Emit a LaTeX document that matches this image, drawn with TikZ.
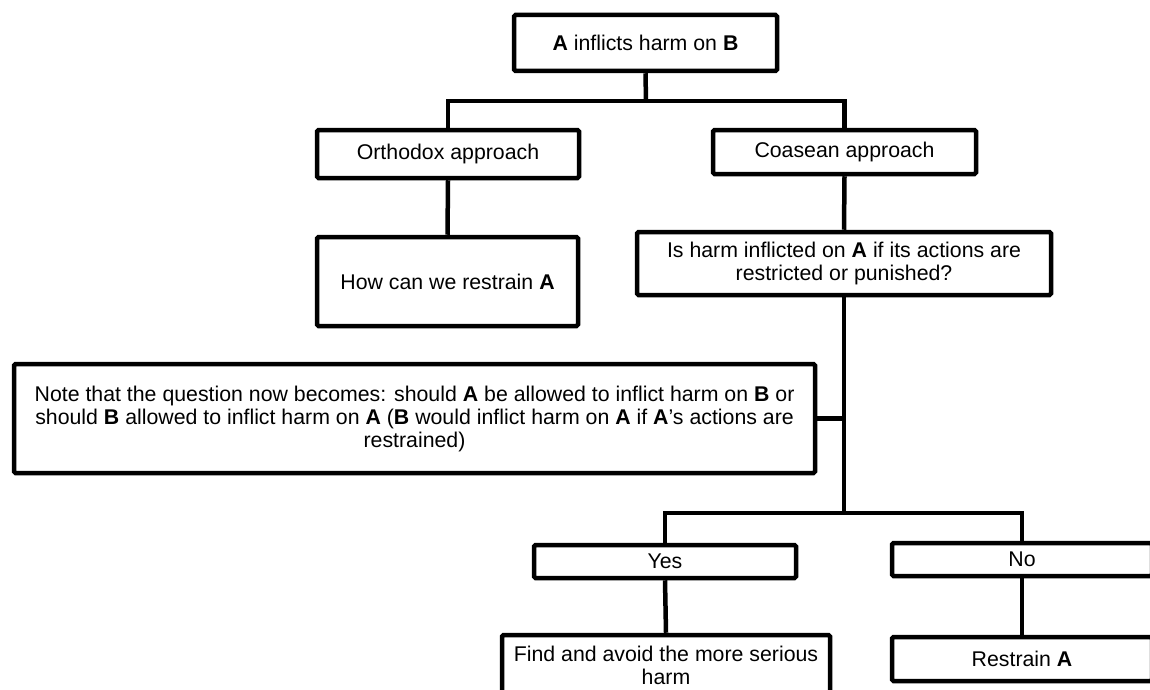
\documentclass[tikz,border=0pt]{standalone}
\usepackage{fontspec}
\setmainfont{Liberation Sans}
\begin{document}
\begin{tikzpicture}[x=1pt,y=-1pt,
  box/.style={draw=black, line width=4.5pt, rounded corners=1.5pt, inner sep=0pt, align=center,
    font=\fontsize{21.3}{23}\selectfont},
  conn/.style={draw=black, line width=4.5pt}]
\useasboundingbox (0,0) rectangle (1150,690);
\node[box, minimum width=263pt, minimum height=56pt] (top) at (645.5,43) {\textbf{A} inflicts harm on \textbf{B}};
\node[box, minimum width=262pt, minimum height=48pt] (orth) at (448,154) {Orthodox approach};
\node[box, minimum width=263pt, minimum height=44pt] (coas) at (844.5,152) {Coasean approach};
\node[box, minimum width=261pt, minimum height=89pt] (how) at (447.5,281.5) {How can we restrain \textbf{A}};
\node[box, minimum width=414pt, minimum height=63pt] (q) at (844,263.5) {Is harm inflicted on \textbf{A} if its actions are\\restricted or punished?};
\node[box, minimum width=801pt, minimum height=109pt] (note) at (414.5,418.5) {Note that the question now becomes: should \textbf{A} be allowed to inflict harm on \textbf{B} or\\should \textbf{B} allowed to inflict harm on \textbf{A} (\textbf{B} would inflict harm on \textbf{A} if \textbf{A}’s actions are\\restrained)};
\node[box, minimum width=262pt, minimum height=33pt] (yes) at (665,561.5) {Yes};
\node[box, minimum width=260pt, minimum height=33pt] (no) at (1022,559.5) {No};
\node[box, minimum width=328pt, minimum height=60pt] (find) at (666,665) {Find and avoid the more serious\\harm};
\node[box, minimum width=260pt, minimum height=44pt] (restrain) at (1022,659) {Restrain \textbf{A}};
\coordinate (j1) at (646,101);
\coordinate (j2) at (844,513);
\draw[conn] (top.south) -- (j1);
\draw[conn] (orth.north) |- (j1) -| (coas.north);
\draw[conn] (orth.south) -- (how.north);
\draw[conn] (coas.south) -- (q.north);
\draw[conn] (q.south) -- (j2);
\draw[conn] (yes.north) |- (j2) -| (no.north);
\draw[conn] (note.east) -- (note.east -| j2);
\draw[conn] (yes.south) -- (find.north);
\draw[conn] (no.south) -- (restrain.north);
\end{tikzpicture}
\end{document}
